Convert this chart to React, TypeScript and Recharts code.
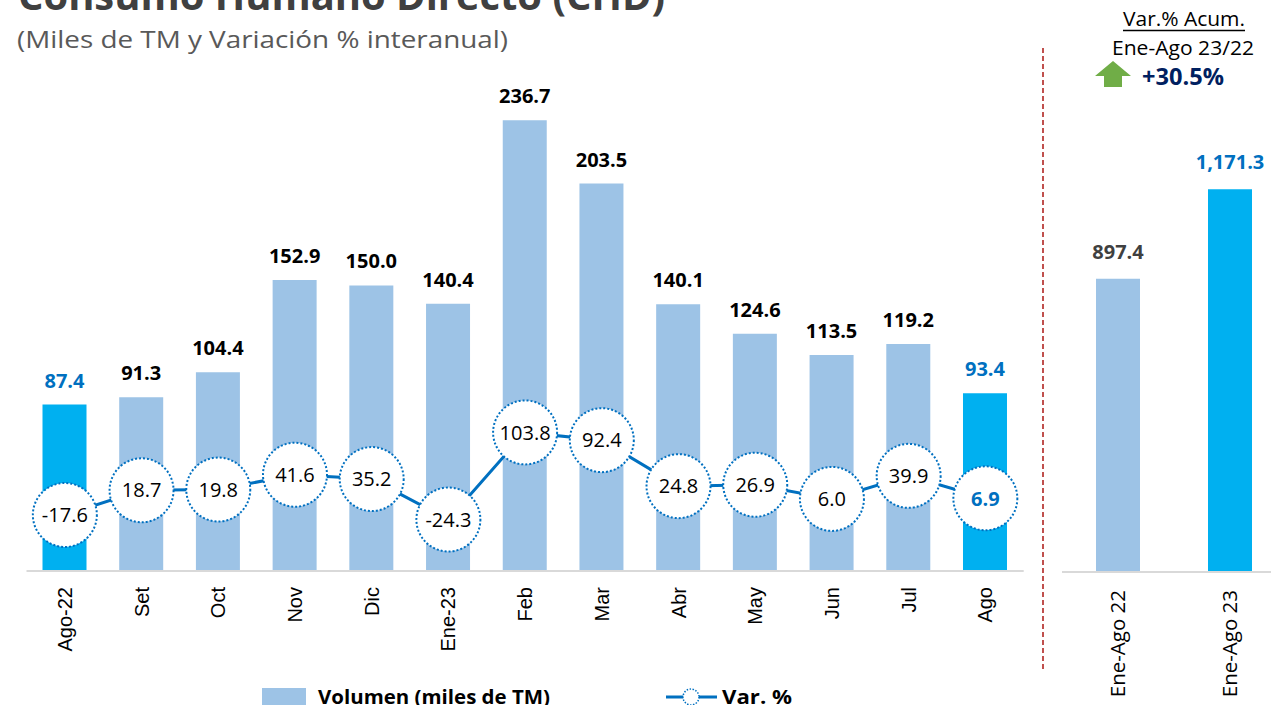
import { ComposedChart, BarChart, Bar, Line, XAxis, YAxis, Cell, LabelList } from 'recharts'

// Volumen mensual (miles de TM) y variación % interanual
const months = ['Ago-22', 'Set', 'Oct', 'Nov', 'Dic', 'Ene-23', 'Feb', 'Mar', 'Abr', 'May', 'Jun', 'Jul', 'Ago']
const volumen = [87.4, 91.3, 104.4, 152.9, 150.0, 140.4, 236.7, 203.5, 140.1, 124.6, 113.5, 119.2, 93.4]
const variacion = [-17.6, 18.7, 19.8, 41.6, 35.2, -24.3, 103.8, 92.4, 24.8, 26.9, 6.0, 39.9, 6.9]
const highlighted = ['Ago-22', 'Ago']

// Acumulado Ene-Ago
const periodos = ['Ene-Ago 22', 'Ene-Ago 23']
const acumulado = [897.4, 1171.3]
const varAcum = '+30.5%'

const LIGHT = '#9DC3E6'
const BRIGHT = '#00B0F0'
const BLUE = '#0070C0'
const AXIS = '#D9D9D9'

const monthly = months.map((m, i) => ({ mes: m, vol: volumen[i], pct: variacion[i] }))
const totals = periodos.map((p, i) => ({ periodo: p, vol: acumulado[i] }))

const idxOf = (props: any, arr: number[]) =>
  typeof props.index === 'number' ? props.index : arr.indexOf(Number(props.value))

const BarLabel = (props: any) => {
  const vb = props.viewBox ?? props
  const i = idxOf(props, volumen)
  const hi = highlighted.includes(months[i])
  return (
    <text
      x={vb.x + vb.width / 2}
      y={vb.y - 17}
      textAnchor="middle"
      fontFamily="Open Sans"
      fontWeight={700}
      fontSize={20}
      fill={hi ? BLUE : '#000'}
    >
      {Number(props.value).toFixed(1)}
    </text>
  )
}

const VarLabel = (props: any) => {
  const vb = props.viewBox ?? props
  const i = idxOf(props, variacion)
  const last = i === months.length - 1
  return (
    <text
      x={vb.x}
      y={vb.y}
      dy="0.36em"
      textAnchor="middle"
      fontFamily="Open Sans"
      fontWeight={last ? 700 : 400}
      fontSize={20}
      fill={last ? BLUE : '#000'}
    >
      {Number(props.value).toFixed(1)}
    </text>
  )
}

const VarDot = (props: any) => {
  const { cx, cy, index } = props
  if (cx == null || cy == null) return null
  return (
    <circle key={`dot-${index}`} cx={cx} cy={cy} r={32} fill="#fff" stroke={BLUE} strokeWidth={2} strokeDasharray="2 2" />
  )
}

const TotalLabel = (props: any) => {
  const vb = props.viewBox ?? props
  const i = idxOf(props, acumulado)
  return (
    <text
      x={vb.x + vb.width / 2}
      y={vb.y - 20}
      textAnchor="middle"
      fontFamily="Open Sans"
      fontWeight={700}
      fontSize={20}
      fill={i === 1 ? BLUE : '#404040'}
    >
      {Number(props.value).toLocaleString('en-US', { minimumFractionDigits: 1, maximumFractionDigits: 1 })}
    </text>
  )
}

const RotTick = (props: any) => {
  const { x, y, payload, font, size } = props
  return (
    <text
      x={x}
      y={y}
      dy="0.35em"
      textAnchor="end"
      transform={`rotate(-90 ${x} ${y})`}
      fontFamily={font}
      fontSize={size}
      fill="#000"
    >
      {payload.value}
    </text>
  )
}

export default function App() {
  return (
    <div style={{ position: 'absolute', left: 0, top: 0, width: 1271, height: 705, overflow: 'hidden', background: '#fff' }}>
      <div style={{ position: 'absolute', left: 0, top: 0 }}>
        <ComposedChart width={1040} height={705} data={monthly} margin={{ top: 95, left: 26.5, right: 16.3, bottom: 34 }}>
          <XAxis
            dataKey="mes"
            height={100}
            tickSize={0}
            tickMargin={16}
            interval={0}
            axisLine={{ stroke: AXIS, strokeWidth: 2 }}
            tickLine={false}
            tick={<RotTick font="Liberation Sans" size={20} />}
          />
          <YAxis yAxisId="vol" hide domain={[0, 250]} />
          <YAxis yAxisId="pct" hide orientation="right" domain={[-100, 600]} />
          <Bar yAxisId="vol" dataKey="vol" barSize={44} isAnimationActive={false}>
            {monthly.map((d) => (
              <Cell key={d.mes} fill={highlighted.includes(d.mes) ? BRIGHT : LIGHT} />
            ))}
            <LabelList dataKey="vol" content={<BarLabel />} />
          </Bar>
          <Line
            yAxisId="pct"
            dataKey="pct"
            type="linear"
            stroke={BLUE}
            strokeWidth={3}
            dot={<VarDot />}
            activeDot={false}
            isAnimationActive={false}
          >
            <LabelList dataKey="pct" content={<VarLabel />} />
          </Line>
        </ComposedChart>
      </div>

      <div style={{ position: 'absolute', left: 1062, top: 0 }}>
        <BarChart width={224} height={705} data={totals} margin={{ top: 95, left: 0, right: 0, bottom: 33 }}>
          <XAxis
            dataKey="periodo"
            height={100}
            tickSize={0}
            tickMargin={18}
            interval={0}
            axisLine={{ stroke: AXIS, strokeWidth: 2 }}
            tickLine={false}
            tick={<RotTick font="Open Sans" size={20.5} />}
          />
          <YAxis hide domain={[0, 1460]} />
          <Bar dataKey="vol" barSize={44} isAnimationActive={false}>
            {totals.map((d, i) => (
              <Cell key={d.periodo} fill={i === 1 ? BRIGHT : LIGHT} />
            ))}
            <LabelList dataKey="vol" content={<TotalLabel />} />
          </Bar>
        </BarChart>
      </div>

      <svg width={1271} height={705} style={{ position: 'absolute', left: 0, top: 0, pointerEvents: 'none' }}>
        <text x={18} y={10} fontFamily="Open Sans" fontWeight={700} fontSize={40} fill="#404040" textLength={647} lengthAdjust="spacingAndGlyphs">
          Consumo Humano Directo (CHD)
        </text>
        <text x={17} y={48} fontFamily="Open Sans" fontSize={24} fill="#595959" textLength={491} lengthAdjust="spacingAndGlyphs">
          (Miles de TM y Variación % interanual)
        </text>

        <line x1={1043} y1={48} x2={1043} y2={670} stroke="#C0504D" strokeWidth={2} strokeDasharray="5 3" />

        <text x={1123} y={26} fontFamily="Open Sans" fontSize={20} fill="#000" textLength={122} lengthAdjust="spacingAndGlyphs">
          Var.% Acum.
        </text>
        <line x1={1123} y1={30.5} x2={1245} y2={30.5} stroke="#000" strokeWidth={1.3} />
        <text x={1112} y={55} fontFamily="Open Sans" fontSize={20} fill="#000" textLength={142} lengthAdjust="spacingAndGlyphs">
          Ene-Ago 23/22
        </text>
        <polygon points="1113,61 1131,76 1122,76 1122,87 1104,87 1104,76 1095,76" fill="#70AD47" />
        <text x={1142} y={85} fontFamily="Open Sans" fontWeight={700} fontSize={23} fill="#002060" textLength={82} lengthAdjust="spacingAndGlyphs">
          {varAcum}
        </text>

        <rect x={262} y={688} width={44} height={20} fill={LIGHT} />
        <text x={318} y={704} fontFamily="Open Sans" fontWeight={700} fontSize={20} fill="#000" textLength={232} lengthAdjust="spacingAndGlyphs">
          Volumen (miles de TM)
        </text>
        <line x1={666} y1={697} x2={717} y2={697} stroke={BLUE} strokeWidth={3} />
        <circle cx={691} cy={697} r={8} fill="#fff" stroke={BLUE} strokeWidth={1.5} strokeDasharray="1.5 1.5" />
        <text x={722} y={704} fontFamily="Open Sans" fontWeight={700} fontSize={20} fill="#000" textLength={70} lengthAdjust="spacingAndGlyphs">
          Var. %
        </text>
      </svg>
    </div>
  )
}
